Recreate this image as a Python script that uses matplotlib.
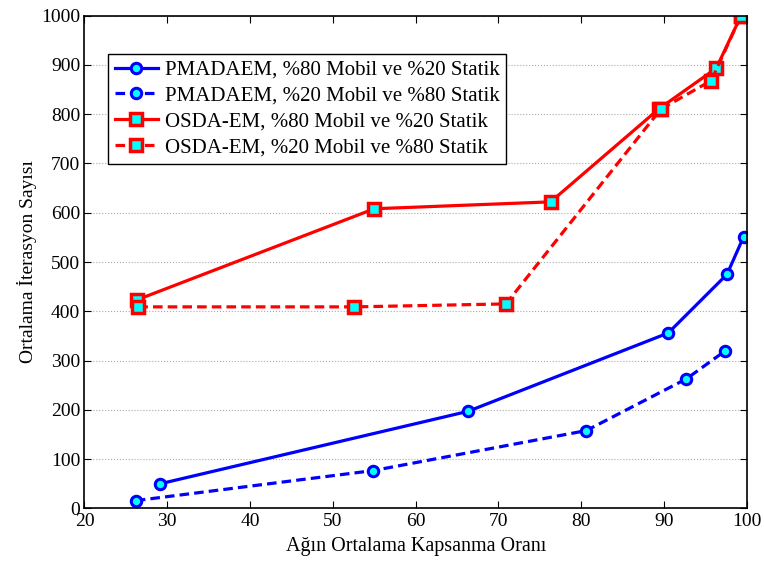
import numpy as np
import matplotlib
matplotlib.use("Agg")
import matplotlib.pyplot as plt

plt.rcParams['font.family'] = ['Liberation Serif', 'DejaVu Serif']

# PMADAEM
pm_80_x = [29.1, 66.3, 90.5, 97.6, 99.6]
pm_80_y = [50, 197, 356, 475, 551]
pm_20_x = [26.2, 54.9, 80.6, 92.7, 97.4]
pm_20_y = [16, 77, 158, 263, 320]

# OSDA-EM
os_80_x = [26.3, 55.0, 76.3, 89.4, 96.3, 99.3]
os_80_y = [423, 608, 622, 811, 893, 1000]
os_20_x = [26.5, 52.6, 70.9, 89.6, 95.7, 99.3]
os_20_y = [409, 409, 415, 810, 868, 1000]

labels = ["PMADAEM, %80 Mobil ve %20 Statik",
          "PMADAEM, %20 Mobil ve %80 Statik",
          "OSDA-EM, %80 Mobil ve %20 Statik",
          "OSDA-EM, %20 Mobil ve %80 Statik"]

fig = plt.figure(figsize=(7.64, 5.62), dpi=100)
ax = fig.add_axes([0.1106, 0.0952, 0.867, 0.8772])

dash = (0, (3, 1.6))
ax.plot(pm_80_x, pm_80_y, '-', color='blue', lw=2.3, marker='o', ms=7.5,
        mfc='cyan', mec='blue', mew=2.2, label=labels[0])
ax.plot(pm_20_x, pm_20_y, linestyle=dash, color='blue', lw=2.3, marker='o', ms=7.5,
        mfc='cyan', mec='blue', mew=2.2, label=labels[1])
ax.plot(os_80_x, os_80_y, '-', color='red', lw=2.3, marker='s', ms=8,
        mfc='cyan', mec='red', mew=2.5, label=labels[2])
ax.plot(os_20_x, os_20_y, linestyle=dash, color='red', lw=2.3, marker='s', ms=8,
        mfc='cyan', mec='red', mew=2.5, label=labels[3])

ax.set_xlim(20, 100)
ax.set_ylim(0, 1000)
ax.set_xticks(np.arange(20, 101, 10))
ax.set_yticks(np.arange(0, 1001, 100))
ax.yaxis.grid(True, color='#aaaaaa', linestyle=':', lw=0.8)
ax.set_axisbelow(True)
ax.tick_params(direction='in', top=True, right=True, labelsize=14, length=5, width=0.8, pad=3)
for s in ax.spines.values():
    s.set_linewidth(1.2)

ax.set_xlabel("Ağın Ortalama Kapsanma Oranı", fontsize=14.5, labelpad=5)
ax.set_ylabel("Ortalama İterasyon Sayısı", fontsize=14, labelpad=3)

leg = ax.legend(loc='upper left', bbox_to_anchor=(0.036, 0.922), borderaxespad=0,
                fontsize=15, frameon=True, fancybox=False, edgecolor='black',
                framealpha=1, labelspacing=0.3, handlelength=2.1, handletextpad=0.3,
                borderpad=0.3)
leg.get_frame().set_linewidth(1.0)

fig.savefig("out.png", dpi=100)
